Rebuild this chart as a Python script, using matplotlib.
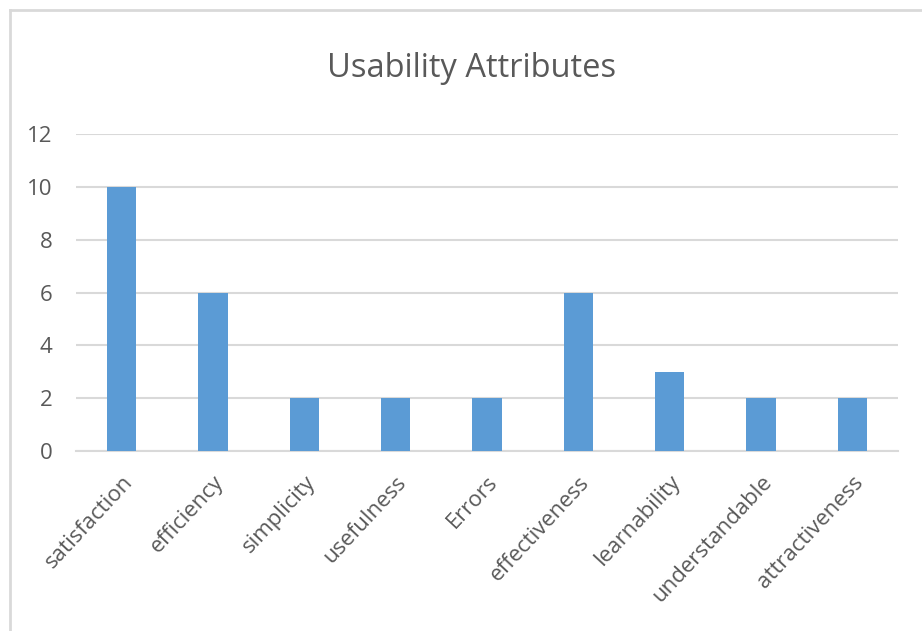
import matplotlib.pyplot as plt
from matplotlib.lines import Line2D

categories = ["satisfaction", "efficiency", "simplicity", "usefulness", "Errors",
              "effectiveness", "learnability", "understandable", "attractiveness"]
values = [10, 6, 2, 2, 2, 6, 3, 2, 2]
yticks = [0, 2, 4, 6, 8, 10, 12]

plt.rcParams['font.family'] = ['Open Sans', 'DejaVu Sans']
grey = "#595959"

fig = plt.figure(figsize=(9.22, 6.31), dpi=100)
ax = fig.add_axes([0.0824, 0.2853, 0.8916, 0.5023])

x = range(len(categories))
ax.bar(x, values, width=0.32, color="#5B9BD5", zorder=3)
ax.set_xlim(-0.5, len(categories) - 0.5)
ax.set_ylim(0, 12)
ax.set_yticks(yticks)
ax.set_xticks(list(x))
ax.set_xticklabels(categories, rotation=47, ha="right", va="top",
                   rotation_mode="anchor", fontsize=16, color=grey)
ax.tick_params(axis="y", labelsize=16, labelcolor=grey, length=0, pad=17)
ax.tick_params(axis="x", length=0, pad=15)

ax.grid(axis="y", color="#d9d9d9", linewidth=1.5, zorder=0)
for s in ["top", "right", "left"]:
    ax.spines[s].set_visible(False)
ax.spines["bottom"].set_color("#d9d9d9")
ax.spines["bottom"].set_linewidth(1.5)

fig.text(0.511, 0.892, "Usability Attributes", ha="center", va="center",
         fontsize=23.5, color=grey)

# chart border (only top and left visible in reference)
fig.add_artist(Line2D([10 / 922, 1.0], [1 - 10 / 631, 1 - 10 / 631],
                      transform=fig.transFigure, color="#d9d9d9", linewidth=2))
fig.add_artist(Line2D([10 / 922, 10 / 922], [0.0, 1 - 10 / 631],
                      transform=fig.transFigure, color="#d9d9d9", linewidth=2))

fig.savefig("out.png", dpi=100)
